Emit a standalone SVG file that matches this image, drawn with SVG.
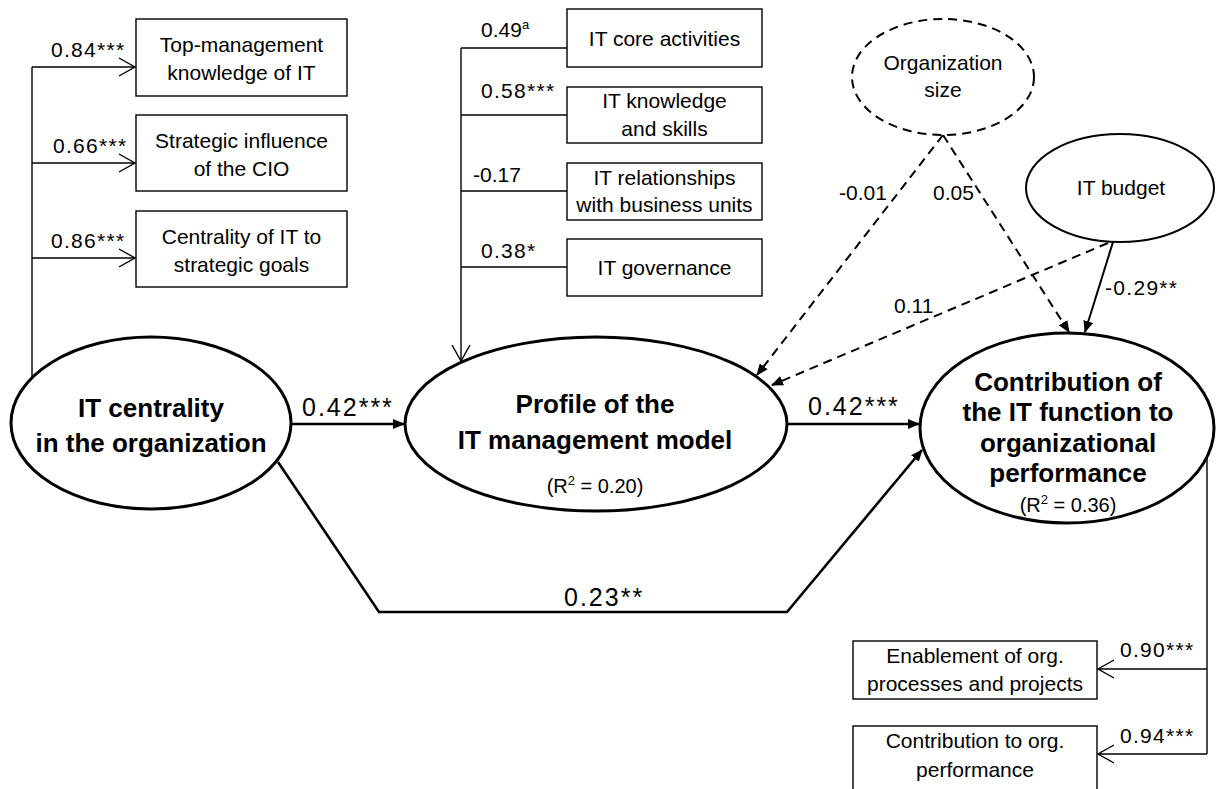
<svg xmlns="http://www.w3.org/2000/svg" width="1216" height="789" viewBox="0 0 1216 789">
<style>
text{font-family:"Liberation Sans",Arial,sans-serif;fill:#000}
.t{font-size:21px}
.tc{font-size:21px;text-anchor:middle}
.lb{font-size:21px;letter-spacing:1.3px}
.big{font-size:25px;letter-spacing:2px}
.bold{font-size:26px;font-weight:bold;text-anchor:middle}
.r2{font-size:20px;text-anchor:middle}
.box{fill:#fff;stroke:#000;stroke-width:1.4}
.thin{fill:none;stroke:#000;stroke-width:1.4}
.main{fill:none;stroke:#000;stroke-width:2.6}
.dash{fill:none;stroke:#000;stroke-width:2;stroke-dasharray:9 6}
.solid2{fill:none;stroke:#000;stroke-width:2}
.ell{fill:#fff;stroke:#000;stroke-width:3}
</style>
<defs>
<marker id="open" markerUnits="userSpaceOnUse" markerWidth="18" markerHeight="20" viewBox="0 0 18 20" refX="16" refY="10" orient="auto">
<path d="M0,1 L16,10 L0,19" fill="none" stroke="#000" stroke-width="1.4"/>
</marker>
<marker id="fill" markerUnits="userSpaceOnUse" markerWidth="12" markerHeight="10" viewBox="0 0 12 10" refX="11" refY="5" orient="auto">
<path d="M0,0 L12,5 L0,10 z" fill="#000"/>
</marker>
</defs>

<g id="connectors">
<line class="thin" x1="32" y1="377" x2="32" y2="67"/>
<line class="thin" x1="32" y1="67" x2="135" y2="67" marker-end="url(#open)"/>
<line class="thin" x1="32" y1="163" x2="135" y2="163" marker-end="url(#open)"/>
<line class="thin" x1="32" y1="258" x2="135" y2="258" marker-end="url(#open)"/>

<line class="thin" x1="461" y1="48" x2="461" y2="361" marker-end="url(#open)"/>
<line class="thin" x1="461" y1="48" x2="567" y2="48"/>
<line class="thin" x1="461" y1="115" x2="567" y2="115"/>
<line class="thin" x1="461" y1="191" x2="567" y2="191"/>
<line class="thin" x1="461" y1="267" x2="567" y2="267"/>

<line class="main" x1="291" y1="424" x2="404" y2="424" marker-end="url(#fill)"/>
<line class="main" x1="787" y1="424" x2="919" y2="424" marker-end="url(#fill)"/>
<path class="main" d="M278,462 L379,612 L787,612 L922,450" marker-end="url(#fill)"/>

<line class="dash" x1="943" y1="135" x2="757" y2="375" marker-end="url(#fill)"/>
<line class="dash" x1="943" y1="135" x2="1069" y2="332" marker-end="url(#fill)"/>
<line class="dash" x1="1108" y1="243" x2="772" y2="385" marker-end="url(#fill)"/>
<line class="solid2" x1="1113" y1="242" x2="1085" y2="332" marker-end="url(#fill)"/>

<line class="thin" x1="1207" y1="457" x2="1207" y2="754"/>
<line class="thin" x1="1207" y1="669" x2="1098" y2="669" marker-end="url(#open)"/>
<line class="thin" x1="1207" y1="754" x2="1098" y2="754" marker-end="url(#open)"/>

<text class="lb" x="51" y="57">0.84***</text>
<text class="lb" x="53" y="153">0.66***</text>
<text class="lb" x="51" y="248">0.86***</text>
<text class="t" x="481" y="37">0.49<tspan font-size="13" dy="-8">a</tspan></text>
<text class="lb" x="481" y="98">0.58***</text>
<text class="t" x="473" y="182">-0.17</text>
<text class="lb" x="481" y="258">0.38*</text>
<text class="t" x="839" y="200">-0.01</text>
<text class="t" x="933" y="200">0.05</text>
<text class="t" x="894" y="313">0.11</text>
<text class="lb" x="1105" y="295">-0.29**</text>
<text class="big" x="302" y="416">0.42***</text>
<text class="big" x="808" y="415">0.42***</text>
<text class="big" x="564" y="606">0.23**</text>
<text class="lb" x="1120" y="657">0.90***</text>
<text class="lb" x="1120" y="743">0.94***</text>
</g>

<g id="box-top-management">
<rect class="box" x="136" y="19" width="211" height="77"/>
<text class="tc" x="241.5" y="52">Top-management</text>
<text class="tc" x="241.5" y="80">knowledge of IT</text>
</g>
<g id="box-strategic-influence">
<rect class="box" x="136" y="115" width="211" height="76"/>
<text class="tc" x="241.5" y="148">Strategic influence</text>
<text class="tc" x="241.5" y="176">of the CIO</text>
</g>
<g id="box-centrality-goals">
<rect class="box" x="136" y="211" width="211" height="76"/>
<text class="tc" x="241.5" y="244">Centrality of IT to</text>
<text class="tc" x="241.5" y="272">strategic goals</text>
</g>

<g id="box-core-activities">
<rect class="box" x="567" y="9" width="195" height="58"/>
<text class="tc" x="664.5" y="46">IT core activities</text>
</g>
<g id="box-knowledge-skills">
<rect class="box" x="567" y="87" width="195" height="56"/>
<text class="tc" x="664.5" y="108">IT knowledge</text>
<text class="tc" x="664.5" y="136">and skills</text>
</g>
<g id="box-relationships">
<rect class="box" x="567" y="163" width="195" height="57"/>
<text class="tc" x="664.5" y="185">IT relationships</text>
<text class="tc" x="664.5" y="212">with business units</text>
</g>
<g id="box-governance">
<rect class="box" x="567" y="239" width="195" height="57"/>
<text class="tc" x="664.5" y="275">IT governance</text>
</g>

<g id="node-org-size">
<ellipse cx="943" cy="77" rx="91" ry="58" fill="#fff" stroke="#000" stroke-width="2" stroke-dasharray="9 6"/>
<text class="tc" x="943" y="70">Organization</text>
<text class="tc" x="943" y="97">size</text>
</g>
<g id="node-it-budget">
<ellipse cx="1120" cy="188" rx="94" ry="54" fill="#fff" stroke="#000" stroke-width="2"/>
<text class="tc" x="1121" y="195">IT budget</text>
</g>

<g id="node-it-centrality">
<ellipse class="ell" cx="151" cy="423" rx="140" ry="86"/>
<text class="bold" x="151" y="417">IT centrality</text>
<text class="bold" x="151" y="452">in the organization</text>
</g>
<g id="node-profile">
<ellipse class="ell" cx="596" cy="424" rx="191" ry="87"/>
<text class="bold" x="595" y="413">Profile of the</text>
<text class="bold" x="595" y="449">IT management model</text>
<text class="r2" x="595" y="493">(R<tspan font-size="13" dy="-8">2</tspan><tspan dy="8"> = 0.20)</tspan></text>
</g>
<g id="node-contribution">
<ellipse class="ell" cx="1067" cy="428" rx="147" ry="95"/>
<text class="bold" x="1068" y="391">Contribution of</text>
<text class="bold" x="1068" y="421">the IT function to</text>
<text class="bold" x="1068" y="452">organizational</text>
<text class="bold" x="1068" y="482">performance</text>
<text class="r2" x="1068" y="512">(R<tspan font-size="13" dy="-8">2</tspan><tspan dy="8"> = 0.36)</tspan></text>
</g>

<g id="box-enablement">
<rect class="box" x="853" y="641" width="244" height="58"/>
<text class="tc" x="975" y="663">Enablement of org.</text>
<text class="tc" x="975" y="691">processes and projects</text>
</g>
<g id="box-contribution-perf">
<rect class="box" x="853" y="726" width="244" height="80"/>
<text class="tc" x="975" y="748">Contribution to org.</text>
<text class="tc" x="975" y="777">performance</text>
</g>
</svg>
